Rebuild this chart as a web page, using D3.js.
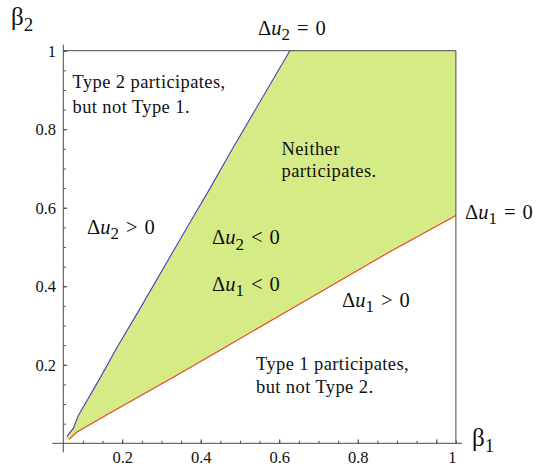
<!DOCTYPE html>
<html>
<head>
<meta charset="utf-8">
<script src="https://cdn.jsdelivr.net/npm/d3@7"></script>
<style>
  body { margin: 0; background: #fff; }
  svg text { font-family: "Liberation Serif", "Times New Roman", Times, "DejaVu Serif", serif; fill: #111; }
</style>
</head>
<body>
<div id="chart"></div>
<script>
// boundary curves, [beta1, beta2]
var du2Boundary = [[0.057, 0.008], [0.059, 0.017], [0.0755, 0.038], [0.088, 0.07], [0.1435, 0.166],
    [0.19, 0.25], [0.233, 0.322], [0.373, 0.563], [0.424, 0.65], [0.475, 0.74], [0.627, 1.0]];
var du1Boundary = [[0.057, 0.008], [0.065, 0.010], [0.084, 0.028], [0.16, 0.072], [0.347, 0.178],
    [0.458, 0.242], [0.585, 0.316], [0.882, 0.488], [1.05, 0.58]];

var xTickValues = [0.2, 0.4, 0.6, 0.8, 1];
var xTickLabels = ["0.2", "0.4", "0.6", "0.8", "1"];
var yTickValues = [0.2, 0.4, 0.6, 0.8, 1];
var yTickLabels = ["0.2", "0.4", "0.6", "0.8", "1"];
var minorStep = 0.05;

var xMin = 0.05, xMax = 1.05;
var yMin = 0, yMax = 1;

var svgWidth = 539;
var svgHeight = 468;
var serif = "'Liberation Serif', 'Times New Roman', 'DejaVu Serif', serif";

var svg = d3.select("#chart")
    .append("svg")
    .attr("width", svgWidth)
    .attr("height", svgHeight)
    .attr("font-family", serif);

var x = d3.scaleLinear().domain([xMin, xMax]).range([63.3, 455.9]);
var y = d3.scaleLinear().domain([yMin, yMax]).range([443.3, 50.7]);

var axisColor = "#4a4a4a";

// shaded region: "neither participates"
var line = d3.line().x(d => x(d[0])).y(d => y(d[1]));
var region = du2Boundary.concat([[xMax, yMax]]).concat(du1Boundary.slice().reverse());
svg.append("path")
    .attr("d", line(region) + "Z")
    .attr("fill", "#d5eb86")
    .attr("stroke", "none");

svg.append("path")
    .attr("d", line(du2Boundary.slice(1)))
    .attr("fill", "none")
    .attr("stroke", "#4a3cc4")
    .attr("stroke-width", 1.1);

svg.append("path")
    .attr("d", line(du1Boundary.slice(1)))
    .attr("fill", "none")
    .attr("stroke", "#e8421e")
    .attr("stroke-width", 1.1);

// frame on top and right
svg.append("line")
    .attr("x1", x(xMin)).attr("x2", x(xMax))
    .attr("y1", y(yMax)).attr("y2", y(yMax))
    .attr("stroke", axisColor);
svg.append("line")
    .attr("x1", x(xMax)).attr("x2", x(xMax))
    .attr("y1", y(yMax)).attr("y2", y(yMin))
    .attr("stroke", axisColor);

// axis lines, a bit longer than the plot range
svg.append("line")
    .attr("x1", x(xMin) - 11).attr("x2", x(xMax) + 6)
    .attr("y1", y(yMin)).attr("y2", y(yMin))
    .attr("stroke", axisColor);
svg.append("line")
    .attr("x1", x(xMin)).attr("x2", x(xMin))
    .attr("y1", y(yMax) - 6).attr("y2", y(yMin) + 9)
    .attr("stroke", axisColor);

var minorX = d3.range(0.1, xMax + 0.001, minorStep);
var minorY = d3.range(minorStep, yMax + 0.001, minorStep);

svg.append("g")
    .attr("transform", `translate(0,${y(yMin)})`)
    .call(d3.axisBottom(x).tickValues(minorX).tickSizeInner(-2.5).tickSizeOuter(0).tickFormat(""));
var xMajor = svg.append("g")
    .attr("transform", `translate(0,${y(yMin)})`)
    .call(d3.axisBottom(x).tickValues(xTickValues).tickSizeInner(-4).tickSizeOuter(0).tickPadding(20)
        .tickFormat((d, i) => xTickLabels[i]));

svg.append("g")
    .attr("transform", `translate(${x(xMin)},0)`)
    .call(d3.axisLeft(y).tickValues(minorY).tickSizeInner(-2.5).tickSizeOuter(0).tickFormat(""));
var yMajor = svg.append("g")
    .attr("transform", `translate(${x(xMin)},0)`)
    .call(d3.axisLeft(y).tickValues(yTickValues).tickSizeInner(-4).tickSizeOuter(0).tickPadding(7.3)
        .tickFormat((d, i) => yTickLabels[i]));

svg.selectAll(".domain").remove();
svg.selectAll("g").attr("font-family", serif);
svg.selectAll(".tick line").attr("stroke", axisColor);
svg.selectAll(".tick text")
    .attr("font-size", 16.5)
    .attr("fill", "#111");
xMajor.selectAll(".tick text").attr("dy", 0);
yMajor.selectAll(".tick text").attr("dy", "0.34em");

// the "1" sits flush with the right end of the axis in the original
xMajor.selectAll(".tick")
    .filter(d => d === 1)
    .select("text")
    .attr("text-anchor", "end")
    .attr("x", x(xMax) - x(1));

// axis names
function beta(px, py, sub) {
    var t = svg.append("text").attr("x", px).attr("y", py).attr("font-size", 25);
    t.append("tspan").text("β");
    t.append("tspan").attr("font-size", 19).attr("dy", 6).text(sub);
}
beta(11, 25, "2");
beta(472, 446, "1");

// delta-u labels
function deltaU(px, py, sub, rel) {
    var t = svg.append("text").attr("x", px).attr("y", py).attr("font-size", 20.5);
    t.append("tspan").text("Δ");
    t.append("tspan").attr("font-style", "italic").text("u");
    t.append("tspan").attr("font-size", 17).attr("dy", 5.5).text(sub);
    t.append("tspan").attr("dy", -5.5).attr("dx", 7).text(rel);
    t.append("tspan").attr("dx", 7).text("0");
}
deltaU(258, 34.5, "2", "=");
deltaU(465, 218.5, "1", "=");
deltaU(87, 233.5, "2", ">");
deltaU(212, 244, "2", "<");
deltaU(212, 290.5, "1", "<");
deltaU(342, 306.5, "1", ">");

// region notes
function note(px, py, lines, gap) {
    lines.forEach(function(s, i) {
        svg.append("text")
            .attr("x", px)
            .attr("y", py + i * gap)
            .attr("font-size", 18.5)
            .attr("letter-spacing", 0.4)
            .text(s);
    });
}
note(72.5, 87.5, ["Type 2 participates,", "but not Type 1."], 25);
note(281.5, 155, ["Neither", "participates."], 22);
note(256, 370, ["Type 1 participates,", "but not Type 2."], 23);
</script>
</body>
</html>
